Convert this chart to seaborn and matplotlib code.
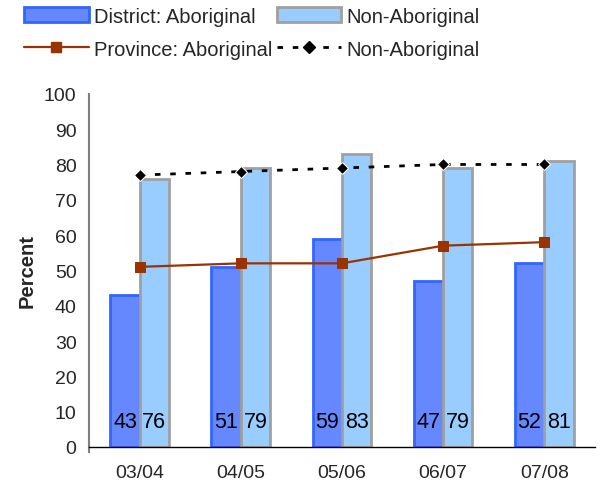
import matplotlib
matplotlib.use('Agg')
import matplotlib.pyplot as plt
import numpy as np
import pandas as pd
import seaborn as sns
from matplotlib.patches import Patch
from matplotlib.lines import Line2D

years = ['03/04', '04/05', '05/06', '06/07', '07/08']
district_abor = [43, 51, 59, 47, 52]
district_nonabor = [76, 79, 83, 79, 81]
province_abor = [51, 52, 52, 57, 58]
province_nonabor = [77, 78, 79, 80, 80]

sns.set_style('white')
plt.rcParams['font.family'] = ['Liberation Sans', 'DejaVu Sans']

df = pd.DataFrame({
    'year': years * 2,
    'value': district_abor + district_nonabor,
    'group': ['District: Aboriginal'] * 5 + ['Non-Aboriginal'] * 5,
})

fig = plt.figure(figsize=(6.02, 4.89), dpi=100)
ax = fig.add_axes([0.148, 0.084, 0.84, 0.722])

sns.barplot(data=df, x='year', y='value', hue='group', order=years,
            palette=['#6688FF', '#99CCFF'], width=0.58, gap=0,
            saturation=1, legend=False, ax=ax)
edges = ['#3366FF', '#A0A0A0']
for cont, ec in zip(ax.containers, edges):
    for p in cont.patches:
        p.set_edgecolor(ec)
        p.set_linewidth(2)

for cont, vals in zip(ax.containers, [district_abor, district_nonabor]):
    for p, v in zip(cont.patches, vals):
        ax.text(p.get_x() + p.get_width() / 2, 7.3, str(v), ha='center',
                va='center', fontsize=15.5, color='black')

xs = np.arange(len(years))
sns.lineplot(x=xs, y=province_abor, color='#993300', marker='s',
             markersize=7, markeredgecolor='#993300', linewidth=1.6, ax=ax)
sns.lineplot(x=xs, y=province_nonabor, color='black', marker='D',
             markersize=6.5, linewidth=2, linestyle=(0, (2, 3.5)), ax=ax)

ax.set_xlim(-0.5, 4.5)
ax.set_ylim(0, 100)
ax.set_yticks(range(0, 101, 10))
ax.set_xticks(np.arange(-0.5, 5, 1))
ax.set_xticklabels([])
ax.set_xticks(xs, minor=True)
ax.set_xticklabels(years, minor=True)
ax.tick_params(axis='x', which='major', direction='inout', length=9,
               width=1, color='black')
ax.tick_params(axis='x', which='minor', length=0, pad=12, labelsize=14)
ax.tick_params(axis='y', direction='inout', length=10, width=1,
               color='#606060', labelsize=14, pad=4)
ax.set_xlabel('')
ax.set_ylabel('Percent', fontsize=14.5, fontweight='bold', labelpad=5)

for s in ['top', 'right']:
    ax.spines[s].set_visible(False)
ax.spines['left'].set_color('#808080')
ax.spines['left'].set_linewidth(1.5)
ax.spines['left'].set_bounds(-1.5, 100)
ax.spines['bottom'].set_color('black')
ax.spines['bottom'].set_linewidth(1)

handles = [
    Patch(facecolor='#6688FF', edgecolor='#3366FF', linewidth=2),
    Line2D([], [], color='#993300', marker='s', markersize=7, linewidth=1.6),
    Patch(facecolor='#99CCFF', edgecolor='#A0A0A0', linewidth=2),
    Line2D([], [], color='black', marker='D', markersize=6.5, linewidth=2,
           linestyle=(0, (2, 3.5))),
]
labels = ['District: Aboriginal', 'Province: Aboriginal',
          'Non-Aboriginal', 'Non-Aboriginal']
fig.legend(handles, labels, ncol=2, loc='upper left',
           bbox_to_anchor=(0.03, 0.997), frameon=False, fontsize=14.5,
           handlelength=3.2, handleheight=0.75, handletextpad=0.25,
           columnspacing=0.25, labelspacing=0.7, borderaxespad=0.1,
           borderpad=0.2)

fig.savefig('out.png', dpi=100)
